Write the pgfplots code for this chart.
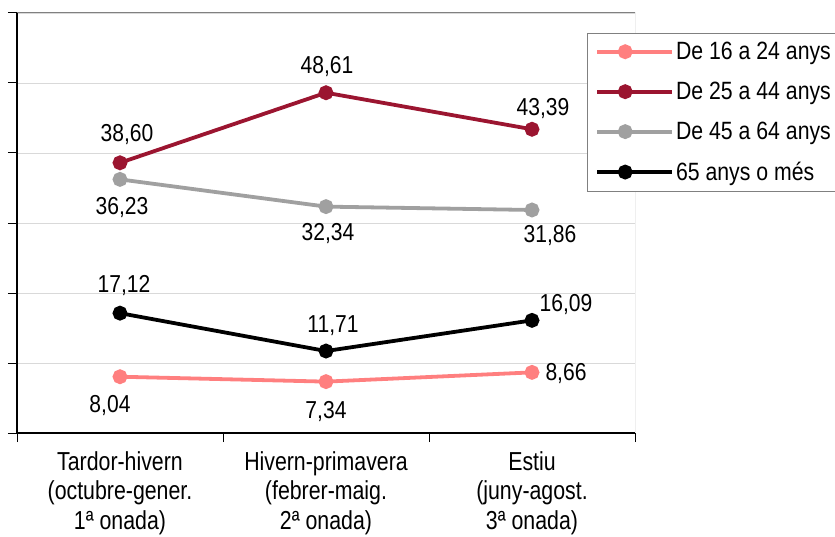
\documentclass[border=0pt]{standalone}
\usepackage{fontspec}
\setmainfont{Liberation Sans}
\usepackage{pgfplots}
\pgfplotsset{compat=1.18}
\newfontfamily\valfont{Liberation Sans}[FakeStretch=0.86]
\newfontfamily\legfont{Liberation Sans}[FakeStretch=0.85]
\newfontfamily\catfont{Liberation Sans}[FakeStretch=0.82]
\definecolor{cA}{HTML}{FF7F7F}
\definecolor{cB}{HTML}{9B1530}
\definecolor{cC}{HTML}{A0A0A0}
\definecolor{cD}{HTML}{000000}
\definecolor{gridc}{HTML}{D9D9D9}
\newcommand{\lbl}{\valfont\fontsize{24.5}{29.5}\selectfont}
\begin{document}
\begin{tikzpicture}
\useasboundingbox (0pt,0pt) rectangle (835pt,536pt);
\clip (0pt,0pt) rectangle (835pt,536pt);
\begin{axis}[
  at={(17pt,103pt)}, anchor=south west,
  width=618pt, height=420pt, scale only axis,
  xmin=-0.5, xmax=2.5, ymin=0, ymax=60,
  axis x line*=bottom, axis y line*=left,
  axis line style={-, black, line width=1.2pt},
  xtick={0,1,2},
  xticklabels={{Tardor-hivern\\(octubre-gener.\\1ª onada)},
               {Hivern-primavera\\(febrer-maig.\\2ª onada)},
               {Estiu\\(juny-agost.\\3ª onada)}},
  xticklabel style={align=center, font=\catfont\fontsize{26}{29.5}\selectfont, yshift=-6pt},
  major x tick style={draw=none},
  minor xtick={-0.5,0.5,1.5,2.5},
  minor tick length=9pt,
  minor x tick style={draw=black, line width=1pt},
  ytick={0,10,...,60}, yticklabels={},
  tick align=outside, major tick length=9pt,
  major y tick style={black, line width=1pt},
  ymajorgrids, grid style={gridc, line width=0.8pt},
  every axis plot/.append style={line width=3.8pt, mark=*, mark size=5.5pt, mark options={solid}},
  legend style={at={(0.922,0.953)}, anchor=north west, draw=gray, line width=1pt, fill=white,
    font=\legfont\fontsize{25}{29}\selectfont, row sep=17pt, inner xsep=8pt, inner ysep=7pt},
  legend cell align=left,
  legend image code/.code={%
    \path (0pt,0pt) -- (75pt,0pt);
    \draw[mark repeat=2, mark phase=2, #1] plot coordinates {(0pt,0pt) (28pt,0pt) (56pt,0pt)};},
]
\addplot[cA] coordinates {(0,8.04) (1,7.34) (2,8.66)};
\addplot[cB] coordinates {(0,38.60) (1,48.61) (2,43.39)};
\addplot[cC] coordinates {(0,36.23) (1,32.34) (2,31.86)};
\addplot[cD] coordinates {(0,17.12) (1,11.71) (2,16.09)};
\legend{De 16 a 24 anys, De 25 a 44 anys, De 45 a 64 anys, 65 anys o més}
\draw[gray, line width=1pt] (rel axis cs:0,1) -- (rel axis cs:1,1) -- (rel axis cs:1,0);
\begin{scope}[every node/.style={font=\lbl}]
\node at ([shift={(7pt,28pt)}]axis cs:0,38.60) {38,60};
\node at ([shift={(2pt,-28pt)}]axis cs:0,36.23) {36,23};
\node at ([shift={(-10pt,-29pt)}]axis cs:0,8.04) {8,04};
\node at ([shift={(4pt,28pt)}]axis cs:0,17.12) {17,12};
\node at ([shift={(1pt,26pt)}]axis cs:1,48.61) {48,61};
\node at ([shift={(2pt,-27pt)}]axis cs:1,32.34) {32,34};
\node at ([shift={(7pt,25pt)}]axis cs:1,11.71) {11,71};
\node at ([shift={(0pt,-30pt)}]axis cs:1,7.34) {7,34};
\node at ([shift={(11pt,21pt)}]axis cs:2,43.39) {43,39};
\node at ([shift={(18pt,-26pt)}]axis cs:2,31.86) {31,86};
\node at ([shift={(34pt,16pt)}]axis cs:2,16.09) {16,09};
\node at ([shift={(34pt,-1pt)}]axis cs:2,8.66) {8,66};
\end{scope}
\end{axis}
\end{tikzpicture}
\end{document}
